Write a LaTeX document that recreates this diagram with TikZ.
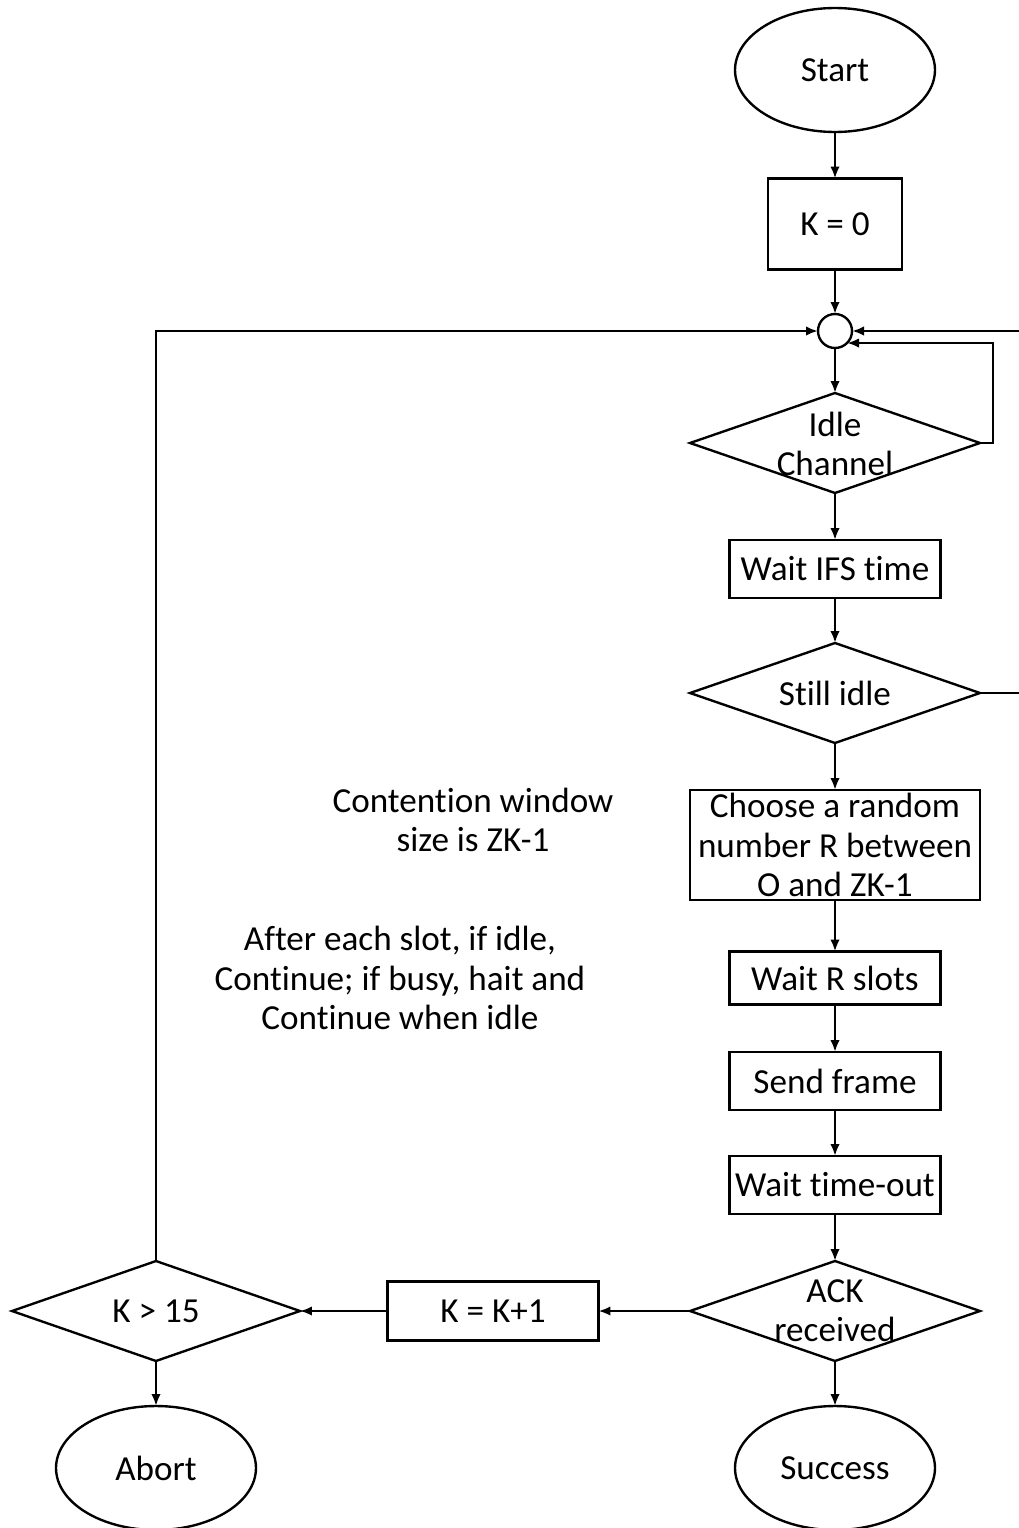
\documentclass[tikz,border=0pt]{standalone}
\usepackage{fontspec}
\setmainfont[RawFeature={-liga}]{Carlito}
\usetikzlibrary{shapes.geometric,arrows.meta}
\begin{document}
\begin{tikzpicture}[x=0.02cm,y=-0.02cm,
  line width=1.35pt,
  every node/.style={font=\fontsize{20}{22.3}\selectfont, align=center, outer sep=0pt},
  terminal/.style={draw, ellipse, inner sep=0pt, minimum width=4cm, minimum height=2.48cm},
  procbox/.style={draw, rectangle, inner sep=0pt, minimum width=4.22cm, minimum height=1.16cm},
  decision/.style={draw, diamond, inner sep=0pt, minimum width=5.8cm, minimum height=2cm},
  junction/.style={draw, circle, inner sep=0pt, minimum size=0.68cm},
  note/.style={align=center},
  flow/.style={-{Latex[length=0.24cm,width=0.19cm]}}
]
\useasboundingbox (0,0) rectangle (1018,1528);

% main column
\node[terminal] (start) at (835,70) {Start};
\node[procbox, minimum width=2.68cm, minimum height=1.82cm] (k0) at (835,224) {K = 0};
\node[junction] (c) at (835,331) {};
\node[decision] (idle) at (835,443) {};
\node (idleT) at (835,444) {Idle\\Channel};
\node[procbox] (ifs) at (835,569) {Wait IFS time};
\node[decision] (still) at (835,693) {};
\node (stillT) at (835,693) {Still idle};
\node[procbox, minimum width=5.8cm, minimum height=2.2cm] (choose) at (835,845) {Choose a random\\number R between\\O and ZK-1};
\node[procbox, minimum height=1.06cm] (wr) at (835,978) {Wait R slots};
\node[procbox] (send) at (835,1081) {Send frame};
\node[procbox] (wto) at (835,1185) {Wait time-out};
\node[decision] (ack) at (835,1311) {};
\node (ackT) at (835,1311) {ACK\\received};
\node[terminal] (succ) at (835,1468) {Success};

% retry branch
\node[procbox, minimum height=1.18cm] (inc) at (493,1311) {K = K+1};
\node[decision, minimum width=5.76cm] (k15) at (156,1311) {};
\node (k15T) at (156,1311) {K > 15};
\node[terminal] (abort) at (156,1468) {Abort};

% notes
\node[note] (n1) at (473,820) {Contention window\\size is ZK-1};
\node[note] (n2) at (400,978) {After each slot, if idle,\\Continue; if busy, hait and\\Continue when idle};

% connectors
\draw[flow] (start) -- (k0);
\draw[flow] (k0) -- (c);
\draw[flow] (c) -- (idle);
\draw[flow] (idle.east) -- ++(13,0) |- (c.-45);
\draw[flow] (idle) -- (ifs);
\draw[flow] (ifs) -- (still);
\draw[flow] (still.east) -- ++(45,0) |- (c.east);
\draw[flow] (still) -- (choose);
\draw[flow] (choose) -- (wr);
\draw[flow] (wr) -- (send);
\draw[flow] (send) -- (wto);
\draw[flow] (wto) -- (ack);
\draw[flow] (ack) -- (succ);
\draw[flow] (ack) -- (inc);
\draw[flow] (inc) -- (k15);
\draw[flow] (k15) -- (abort);
\draw[flow] (k15.north) |- (c.west);
\end{tikzpicture}
\end{document}
